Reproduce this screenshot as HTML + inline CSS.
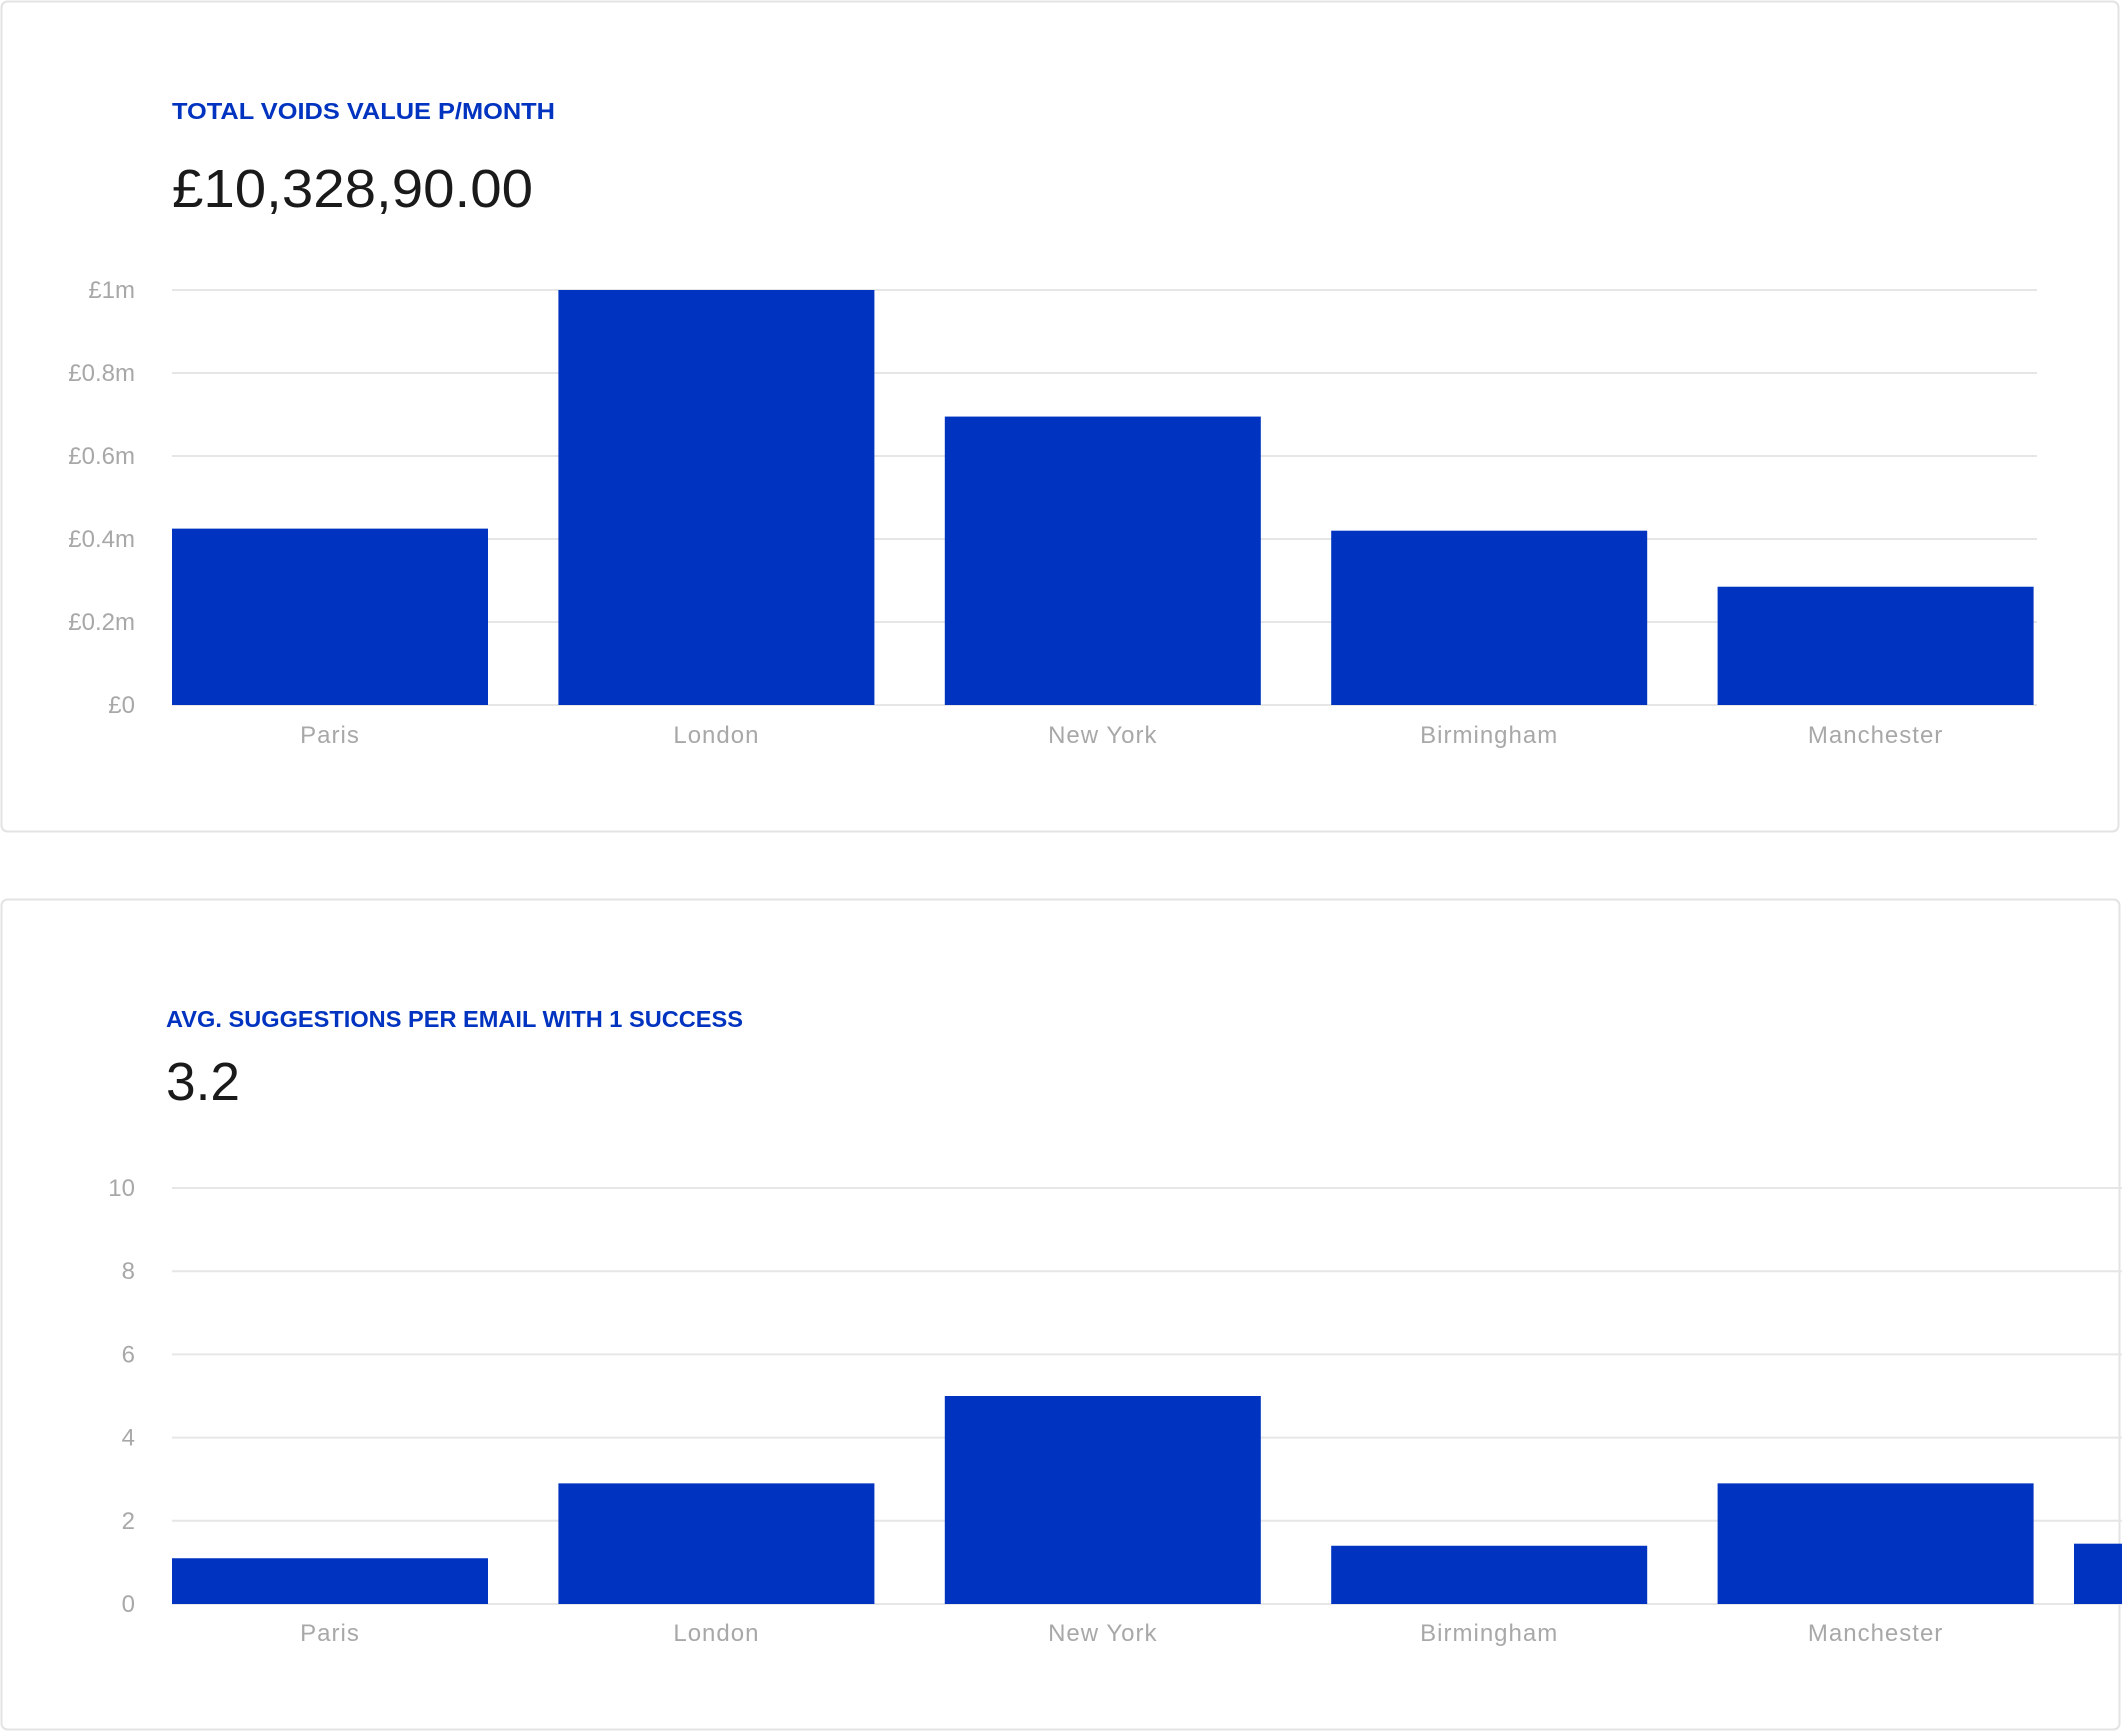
<!DOCTYPE html>
<html><head><meta charset="utf-8"><style>
html,body{margin:0;padding:0;background:#fff;overflow:hidden;width:2122px;height:1732px;}
svg{display:block;font-family:"Liberation Sans",sans-serif;}
</style></head><body>
<svg id="s" width="2122" height="1732" viewBox="0 0 2122 1732" xmlns="http://www.w3.org/2000/svg">
<rect x="1.5" y="1.5" width="2117" height="830" rx="6" fill="#fff" stroke="#e3e3e3" stroke-width="2"/>
<rect x="1.5" y="899.5" width="2118" height="830" rx="6" fill="#fff" stroke="#e3e3e3" stroke-width="2"/>
<text x="172" y="119" font-size="23" font-weight="bold" fill="#0033c0" textLength="383" lengthAdjust="spacingAndGlyphs">TOTAL VOIDS VALUE P/MONTH</text>
<text x="172" y="207" font-size="54" fill="#1a1a1a" textLength="361" lengthAdjust="spacingAndGlyphs">£10,328,90.00</text>
<text x="166" y="1027" font-size="23" font-weight="bold" fill="#0033c0" textLength="577" lengthAdjust="spacingAndGlyphs">AVG. SUGGESTIONS PER EMAIL WITH 1 SUCCESS</text>
<text x="166" y="1100" font-size="54" fill="#1a1a1a" textLength="74" lengthAdjust="spacingAndGlyphs">3.2</text>
<g id="c1"></g><g id="c2"></g>
</svg>
<script>
const cats1 = ["Paris","London","New York","Birmingham","Manchester"];
const vals1 = [0.425, 1.0, 0.695, 0.42, 0.285];
const ticks1 = [0,0.2,0.4,0.6,0.8,1];
const tickLabels1 = ["£0","£0.2m","£0.4m","£0.6m","£0.8m","£1m"];
const cats2 = ["Paris","London","New York","Birmingham","Manchester",""];
const vals2 = [1.1, 2.9, 5.0, 1.4, 2.9, 1.45];
const ticks2 = [0,2,4,6,8,10];
const tickLabels2 = ["0","2","4","6","8","10"];

const NS="http://www.w3.org/2000/svg";
function mk(tag,attrs,parent){const e=document.createElementNS(NS,tag);for(const k in attrs)e.setAttribute(k,attrs[k]);parent.appendChild(e);return e;}
function draw(g,cats,vals,ticks,labels,yMax,y0,y1,gridRight,labelY,prefix){
  const yS=v=>y0-(v/yMax)*(y0-y1);
  const xS=i=>172+i*386.4-(i>4?30:0);
  ticks.forEach((t,i)=>{
    const l=mk('line',{x1:172,x2:gridRight,y1:yS(t),y2:yS(t),stroke:'#e6e6e6','stroke-width':2},g);
    
    
    const tx=mk('text',{x:135,y:yS(t)+8,'text-anchor':'end','font-size':24,fill:'#a8a8a8'},g);
    tx.textContent=labels[i];
    
    
  });
  vals.forEach((v,i)=>{
    const r=mk('rect',{x:xS(i),y:yS(v),width:316,height:y0-yS(v),fill:'#0033bf'},g);
    
    
    if(cats[i]){
      const t=mk('text',{x:xS(i)+158,y:labelY,'text-anchor':'middle','font-size':24,fill:'#a8a8a8','letter-spacing':'1'},g);
      t.textContent=cats[i];
      
      
    }
  });
}
draw(document.getElementById('c1'),cats1,vals1,ticks1,tickLabels1,1,705,290,2037,743,'voids');
draw(document.getElementById('c2'),cats2,vals2,ticks2,tickLabels2,10,1604,1188,2122,1641,'suggestions');
</script>
</body></html>
